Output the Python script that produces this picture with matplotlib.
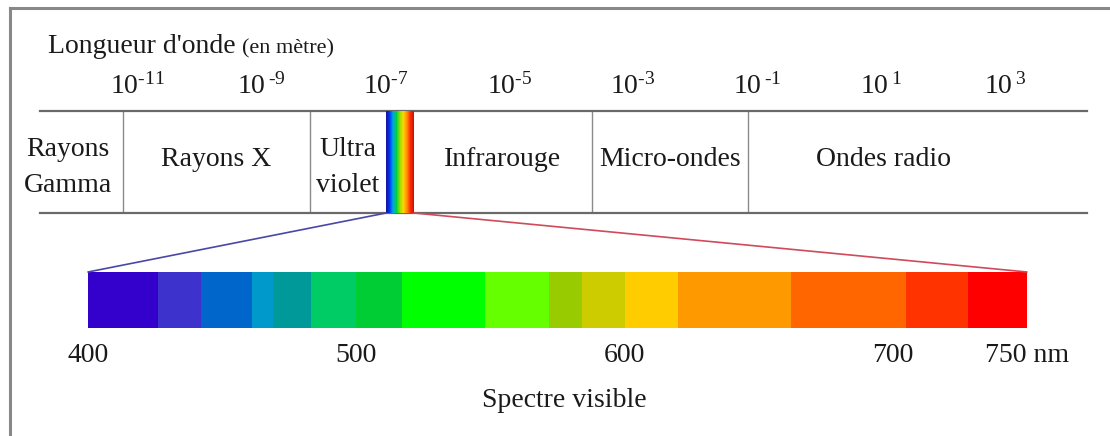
import numpy as np
import matplotlib
matplotlib.use('Agg')
import matplotlib.pyplot as plt
from matplotlib.colors import LinearSegmentedColormap
from matplotlib.patches import ConnectionPatch
from matplotlib.lines import Line2D
from matplotlib.ticker import NullLocator

plt.rcParams['font.family'] = ['Liberation Serif', 'DejaVu Serif']
plt.rcParams['mathtext.fontset'] = 'custom'
plt.rcParams['mathtext.rm'] = 'Liberation Serif'

# ---------------- data ----------------
# electromagnetic spectrum (wavelength exponents, metres)
HY = '\u2010'  # short hyphen used as minus sign in the exponents
wl_tick_exp = [-11, -9, -7, -5, -3, -1, 1, 3]
wl_tick_labels = [r'$\mathregular{10^{' + HY + '11}}$',
                  r'$\mathregular{10^{\,' + HY + '9}}$',
                  r'$\mathregular{10^{' + HY + '7}}$',
                  r'$\mathregular{10^{' + HY + '5}}$',
                  r'$\mathregular{10^{' + HY + '3}}$',
                  r'$\mathregular{10^{\,' + HY + '1}}$',
                  r'$\mathregular{10^{\,1}}$',
                  r'$\mathregular{10^{\,3}}$']
region_names = ['Rayons\nGamma', 'Rayons X', 'Ultra\nviolet',
                'Infrarouge', 'Micro-ondes', 'Ondes radio']
region_start_exp = [-12.58, -11.24, -8.22, -6.54, -3.67, -1.15]
region_end_exp = [-11.24, -8.22, -6.99, -3.67, -1.15, 4.33]
visible_exp = [-6.99, -6.54]

# visible spectrum (nm)
spectrum_edges_nm = [400, 426, 442, 461, 469, 483, 500, 517, 548,
                     572, 584, 600, 620, 662, 705, 728, 750]
spectrum_colors = ['#3300CC', '#3D33CC', '#0066CC', '#0099CC', '#009999',
                   '#00CC66', '#00CC33', '#00FF00', '#66FF00', '#99CC00',
                   '#CCCC00', '#FFCC00', '#FF9900', '#FF6600', '#FF3300',
                   '#FF0000']
nm_ticks = [400, 500, 600, 700, 750]
nm_tick_labels = ['400', '500', '600', '700', '750 nm']

rainbow_colors = ['#14149a', '#0038ff', '#00a8d8', '#00d040', '#9fe000',
                  '#ffd400', '#ff8c00', '#ff2a00', '#c81010']

# ---------------- layout ----------------
W, H = 1110, 436
fig = plt.figure(figsize=(W / 100, H / 100), dpi=100)


def rect(x0, y0, x1, y1):
    return [x0 / W, 1 - y1 / H, (x1 - x0) / W, (y1 - y0) / H]


FS = 20
TC = '#1a1a1a'

# frame
fig.add_artist(Line2D([10 / W, 1], [1 - 8 / H, 1 - 8 / H],
                      transform=fig.transFigure, color='#888888', lw=2.2))
fig.add_artist(Line2D([10 / W, 10 / W], [0, 1 - 8 / H],
                      transform=fig.transFigure, color='#888888', lw=2.2))

fig.text(48 / W, 1 - 53 / H, "Longueur d'onde", fontsize=FS, va='baseline',
         ha='left', color=TC)
fig.text(242 / W, 1 - 53 / H, "(en mètre)", fontsize=16, va='baseline',
         ha='left', color=TC)

# ---- top table ----
ax = fig.add_axes(rect(40, 111, 1087, 213))
ax.set_xscale('log')
ax.set_xlim(10.0 ** region_start_exp[0], 10.0 ** region_end_exp[-1])
ax.set_ylim(0, 1)
for s in ('left', 'right'):
    ax.spines[s].set_visible(False)
for s in ('top', 'bottom'):
    ax.spines[s].set_color('#6a6a6a')
    ax.spines[s].set_linewidth(1.6)
ax.set_yticks([])
ax.xaxis.tick_top()
ax.set_xticks([10.0 ** e for e in wl_tick_exp])
ax.set_xticklabels(wl_tick_labels)
ax.xaxis.set_minor_locator(NullLocator())
ax.tick_params(axis='x', which='both', length=0, pad=8, labelsize=FS,
               labelcolor=TC)
ax.patch.set_alpha(0)

# dividers
for e in region_start_exp[1:]:
    if e in visible_exp:
        continue
    ax.axvline(10.0 ** e, color='#8a8a8a', lw=1.0)

# visible band gradient
cmap = LinearSegmentedColormap.from_list('rb', rainbow_colors)
xs = np.logspace(visible_exp[0], visible_exp[1], 80)
C = np.linspace(0, 1, len(xs) - 1).reshape(1, -1)
ax.pcolormesh(xs, [0, 1], C, cmap=cmap, shading='flat', zorder=3)

# region labels
label_override = {'Rayons\nGamma': -12.13, 'Ondes radio': 1.05}
for name, a, b in zip(region_names, region_start_exp, region_end_exp):
    xc = label_override.get(name, (a + b) / 2)
    if '\n' in name:
        ax.text(10.0 ** xc, (213 - 192) / 102, name, ha='center',
                va='baseline', fontsize=FS, linespacing=1.58, color=TC)
    else:
        ax.text(10.0 ** xc, 0.46, name, ha='center', va='baseline',
                fontsize=FS, color=TC)

# ---- visible spectrum bar ----
bx = fig.add_axes(rect(88, 272, 1027, 328))
bx.set_xlim(spectrum_edges_nm[0], spectrum_edges_nm[-1])
bx.set_ylim(0, 1)
starts = np.array(spectrum_edges_nm[:-1])
widths = np.diff(spectrum_edges_nm)
bx.bar(starts, 1, width=widths, align='edge', color=spectrum_colors,
       linewidth=0)
for s in bx.spines.values():
    s.set_visible(False)
bx.set_yticks([])
bx.set_xticks(nm_ticks)
bx.set_xticklabels(nm_tick_labels)
bx.tick_params(axis='x', length=0, pad=11, labelsize=FS, labelcolor=TC)

fig.text(564 / W, 1 - 400 / H, 'Spectre visible', fontsize=FS,
         ha='center', va='center', color=TC)

# connectors
con1 = ConnectionPatch(xyA=(10.0 ** visible_exp[0], 0), coordsA=ax.transData,
                       xyB=(spectrum_edges_nm[0], 1), coordsB=bx.transData,
                       color='#4848a8', lw=1.2)
con2 = ConnectionPatch(xyA=(10.0 ** visible_exp[1], 0), coordsA=ax.transData,
                       xyB=(spectrum_edges_nm[-1], 1), coordsB=bx.transData,
                       color='#d04a5a', lw=1.2)
fig.add_artist(con1)
fig.add_artist(con2)

fig.savefig('out.png', dpi=100)
